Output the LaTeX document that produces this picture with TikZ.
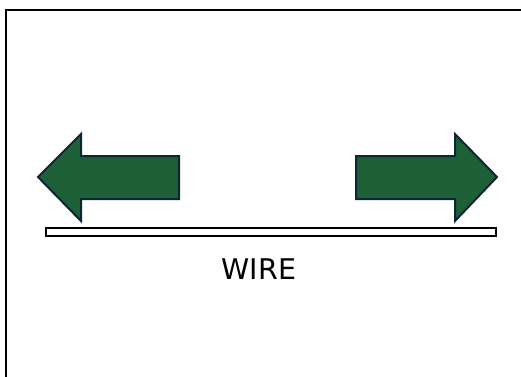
\documentclass[tikz,border=0pt]{standalone}
\usepackage{fontspec}
\setmainfont{DejaVu Sans}
\definecolor{arrowgreen}{RGB}{29,96,55}
\definecolor{arrowedge}{RGB}{14,38,52}
\tikzset{
  bigarrow/.style={fill=arrowgreen, draw=arrowedge, line width=2pt, line join=miter},
  wirebar/.style={draw=black, fill=white, line width=1.8pt},
  frameline/.style={draw=black, line width=2pt}
}
\begin{document}
\begin{tikzpicture}[x=1pt,y=-1pt]
  \useasboundingbox (0,0) rectangle (521,376);
  % partial frame along the top and left
  \draw[frameline] (6,380) -- (6,10) -- (525,10);
  % arrow pointing left
  \draw[bigarrow] (38,177) -- (81,134) -- (81,156) -- (179,156) -- (179,199)
        -- (81,199) -- (81,221) -- cycle;
  % arrow pointing right
  \draw[bigarrow] (497,177) -- (455,134) -- (455,156) -- (356,156) -- (356,199)
        -- (455,199) -- (455,221) -- cycle;
  % the wire
  \draw[wirebar] (46,228) rectangle (496,236);
  \node[font=\fontsize{28.5}{32}\selectfont, anchor=center] (wire) at (259,269) {WIRE};
\end{tikzpicture}
\end{document}
